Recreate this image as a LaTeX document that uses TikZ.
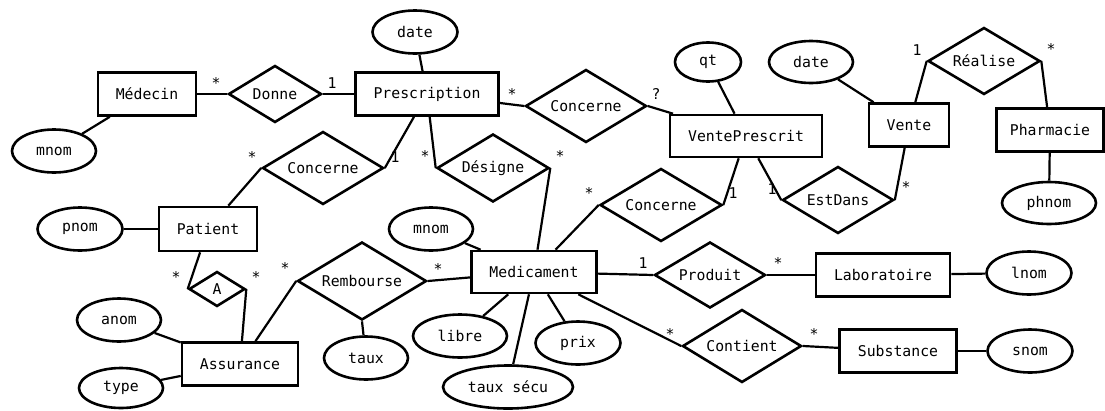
\documentclass[tikz,border=0pt]{standalone}
\usepackage{fontspec}
\setmonofont{DejaVu Sans Mono}
\usepackage{tikz}
\usetikzlibrary{shapes, arrows, calc, positioning}

\begin{document}
\begin{tikzpicture}[x=1pt,y=-1pt,line width=2.2pt,font=\ttfamily\fontsize{14.8}{17}\selectfont]
            \useasboundingbox (0,0) rectangle (1105,410);
            \begin{scope}[inner sep=0pt]
            \tikzstyle{every node}=[draw,line width=2.6pt]
            \tikzstyle{ent}=[shape=rectangle,minimum height=43]
            \tikzstyle{attr}=[shape=ellipse,minimum width=85,minimum height=43]
            \tikzstyle{rel}=[shape=diamond,aspect=1.6]

            % entites
            \node[ent,minimum width=98] (medecin) at (147,94) {Médecin};
            \node[ent,minimum width=143] (prescription) at (427,94) {Prescription};
            \node[ent,minimum width=152,minimum height=42] (venteprescrit) at (746,136) {VentePrescrit};
            \node[ent,minimum width=80] (vente) at (909,125) {Vente};
            \node[ent,minimum width=107] (pharmacie) at (1050,130) {Pharmacie};
            \node[ent,minimum width=98,minimum height=44] (patient) at (208,229) {Patient};
            \node[ent,minimum width=116] (assurance) at (240,364) {Assurance};
            \node[ent,minimum width=125,minimum height=42] (medicament) at (534,272) {Medicament};
            \node[ent,minimum width=134] (laboratoire) at (883,275) {Laboratoire};
            \node[ent,minimum width=117] (substance) at (898,351) {Substance};

            % attributs
            \node[attr,minimum width=84] (mnom_1) at (54,151) {mnom};
            \node[attr] (date_1) at (415,32) {date};
            \node[attr,minimum width=66,minimum height=39] (qt) at (708,62) {qt};
            \node[attr,minimum width=84,minimum height=42] (date_2) at (811,62) {date};
            \node[attr,minimum width=94,minimum height=42] (phnom) at (1049,203) {phnom};
            \node[attr] (pnom) at (80,229) {pnom};
            \node[attr,minimum width=84] (anom) at (119,320) {anom};
            \node[attr,minimum width=84,minimum height=40] (type) at (121,388) {type};
            \node[attr,minimum width=84] (mnom_2) at (431,229) {mnom};
            \node[attr,minimum width=84] (taux) at (366,358) {taux};
            \node[attr,minimum width=94] (libre) at (460,336) {libre};
            \node[attr,minimum width=130] (taux_secu) at (508,387) {taux sécu};
            \node[attr] (prix) at (578,343) {prix};
            \node[attr] (lnom) at (1029,273) {lnom};
            \node[attr] (snom) at (1030,351) {snom};

            % associations
            \node[rel,minimum width=93,minimum height=57] (donne) at (275,94) {Donne};
            \node[rel,minimum width=121,minimum height=73] (concerne_1) at (586,106) {Concerne};
            \node[rel,minimum width=121,minimum height=73] (concerne_2) at (323,168) {Concerne};
            \node[rel,minimum width=112,minimum height=68] (designe) at (493,168) {Désigne};
            \node[rel,minimum width=122,minimum height=73] (concerne_3) at (661,205) {Concerne};
            \node[rel,minimum width=111,minimum height=67] (estdans) at (838,200) {EstDans};
            \node[rel,minimum width=112,minimum height=67] (realise) at (984,61) {Réalise};
            \node[rel,minimum width=56,minimum height=35] (a) at (217,289) {A};
            \node[rel,minimum width=129,minimum height=78] (rembourse) at (362,281) {Rembourse};
            \node[rel,minimum width=111,minimum height=66] (produit) at (710,275) {Produit};
            \node[rel,minimum width=119,minimum height=73] (contient) at (742,346) {Contient};
            \end{scope}

            \draw [-] (medecin) -- (donne.west);
            \draw [-] (donne.east) -- (prescription);
            \draw [-] (medecin) -- (mnom_1);
            \draw [-] (date_1) -- (prescription);
            \draw [-] (prescription) -- (concerne_1.west);
            \draw [-] (concerne_1.east) -- (venteprescrit);
            \draw [-] (qt) -- (venteprescrit);
            \draw [-] (date_2) -- (vente);
            \draw [-] (vente) -- (realise.west);
            \draw [-] (realise.east) -- (pharmacie);
            \draw [-] (pharmacie) -- (phnom);
            \draw [-] (venteprescrit) -- (estdans.west);
            \draw [-] (estdans.east) -- (vente);
            \draw [-] (patient) -- (concerne_2.west);
            \draw [-] (concerne_2.east) -- (prescription);
            \draw [-] (prescription) -- (designe.west);
            \draw [-] (designe.east) -- (medicament);
            \draw [-] (medicament) -- (concerne_3.west);
            \draw [-] (concerne_3.east) -- (venteprescrit);
            \draw [-] (pnom) -- (patient);
            \draw [-] (patient) -- (a.west);
            \draw [-] (a.east) -- (assurance);
            \draw [-] (anom) -- (assurance);
            \draw [-] (type) -- (assurance);
            \draw [-] (assurance) -- (rembourse.west);
            \draw [-] (rembourse.east) -- (medicament);
            \draw [-] (rembourse.south) -- (taux);
            \draw [-] (mnom_2) -- (medicament);
            \draw [-] (libre) -- (medicament);
            \draw [-] (taux_secu) -- (medicament);
            \draw [-] (prix) -- (medicament);
            \draw [-] (medicament) -- (produit.west);
            \draw [-] (produit.east) -- (laboratoire);
            \draw [-] (laboratoire) -- (lnom);
            \draw [-] (medicament) -- (contient.west);
            \draw [-] (contient.east) -- (substance);
            \draw [-] (substance) -- (snom);

            % cardinalites
            \begin{scope}[every node/.style={anchor=base,inner sep=0pt}]
            \node (k_1) at (216,88) {*};
            \node (k_2) at (332,88) {1};
            \node (k_3) at (512,99) {*};
            \node (k_4) at (656,99) {?};
            \node (k_5) at (252,162) {*};
            \node (k_6) at (395,162) {1};
            \node (k_7) at (425,161) {*};
            \node (k_8) at (560,161) {*};
            \node (k_9) at (589,198) {*};
            \node (k_10) at (733,198) {1};
            \node (k_11) at (772,194) {1};
            \node (k_12) at (906,192) {*};
            \node (k_13) at (917,55) {1};
            \node (k_14) at (1051,54) {*};
            \node (k_15) at (176,282) {*};
            \node (k_16) at (256,282) {*};
            \node (k_17) at (285,273) {*};
            \node (k_18) at (438,274) {*};
            \node (k_19) at (643,268) {1};
            \node (k_20) at (778,268) {*};
            \node (k_21) at (670,339) {*};
            \node (k_22) at (814,339) {*};
            \end{scope}
        \end{tikzpicture}
\end{document}
